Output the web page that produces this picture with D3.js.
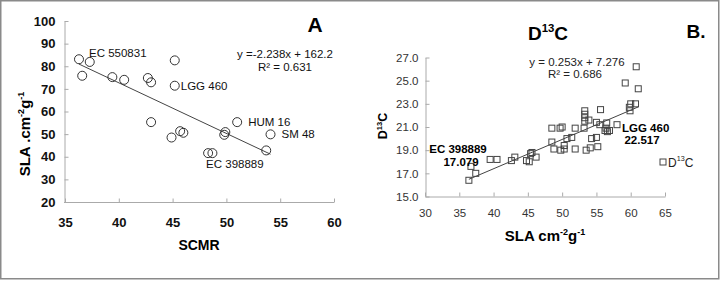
<!DOCTYPE html>
<html><head><meta charset="utf-8">
<script src="https://cdn.jsdelivr.net/npm/d3@7"></script>
<style>body{margin:0;background:#fff}svg{display:block;font-family:"Liberation Sans",Arial,sans-serif}</style>
</head><body><svg id="c" width="720" height="282"></svg>
<script>
// Panel A data
const scmr = [36.3, 37.3, 36.6, 39.4, 40.5, 42.7, 43.0, 45.2, 45.2, 43.0, 51.0, 45.7, 46.0, 44.9, 49.9, 49.8, 54.1, 53.7, 48.3, 48.7];
const slaA = [83.1, 81.9, 75.8, 75.2, 74.0, 74.8, 72.9, 82.6, 71.4, 55.3, 55.3, 51.3, 50.6, 48.5, 50.9, 49.7, 49.9, 42.8, 41.6, 41.6];
const labelsA = [
  {t:"EC 550831", x:36.3, y:83.1, dx:10, dy:-6},
  {t:"LGG 460", x:45.2, y:71.4, dx:6, dy:0},
  {t:"HUM 16", x:51.0, y:55.3, dx:11, dy:0},
  {t:"SM 48", x:54.1, y:49.9, dx:11, dy:0},
  {t:"EC 398889", x:48.3, y:41.6, dx:-2, dy:11}
];
const xTicksA = [35, 40, 45, 50, 55, 60];
const yTicksA = [20, 30, 40, 50, 60, 70, 80, 90, 100];
const fitA = {m:-2.238, b:162.2};

// Panel B data
const slaB = [36.4, 36.7, 37.4, 39.5, 40.5, 42.6, 43.1, 44.8, 45.2, 45.6, 46.2, 48.5, 48.8, 49.8, 50.3, 50.3, 51.9, 53.5, 54.1, 55.2,
  50.7, 51.4, 48.5, 49.7, 51.9, 53.2, 53.3, 53.3, 53.3, 53.3, 55.6, 53.9, 55.0, 55.5, 56.5, 56.25, 56.6, 56.9, 58.0, 54.3,
  55.0, 60.8, 59.2, 61.1, 60.0, 60.7, 59.8, 56.4, 45.4, 50.0, 59.9];
const d13c = [16.4, 17.6, 17.0, 18.2, 18.2, 18.1, 18.4, 18.1, 18.0, 18.8, 18.4, 19.7, 19.1, 19.0, 19.1, 19.4, 19.1, 19.0, 19.2, 19.3,
  20.0, 20.1, 20.9, 20.9, 20.9, 20.9, 22.4, 22.1, 21.8, 21.5, 22.5, 21.6, 21.4, 21.2, 21.35, 20.7, 20.6, 20.7, 21.2, 20.0,
  20.1, 26.2, 24.8, 24.3, 23.0, 23.0, 22.7, 20.9, 18.7, 21.0, 22.4];
const xTicksB = [30, 35, 40, 45, 50, 55, 60, 65];
const yTicksB = [15, 17, 19, 21, 23, 25, 27];
const fitB = {m:0.253, b:7.276};

const svg = d3.select("#c");
svg.append("rect").attr("x",0.75).attr("y",0.75).attr("width",718).attr("height",278)
  .attr("fill","#fff").attr("stroke","#8a8a8a").attr("stroke-width",1.5);

function rich(g, parts, size, attrs){
  const t = g.append("text").attr("font-size", size);
  for (const k in attrs) t.attr(k, attrs[k]);
  let raised = false;
  parts.forEach(p => {
    const ts = t.append("tspan").text(p.t);
    if (p.sup) {
      ts.attr("font-size", size*0.6).attr("dy", raised ? 0 : -size*0.42);
      raised = true;
    } else {
      if (raised) ts.attr("dy", size*0.42);
      raised = false;
    }
  });
  return t;
}

// ---------- Panel A ----------
const xA = d3.scaleLinear().domain([35,60]).range([65,334]);
const yA = d3.scaleLinear().domain([20,100]).range([202,21]);
const gA = svg.append("g");
const axA1 = gA.append("g").attr("transform","translate(64.5,0)")
  .call(d3.axisLeft(yA).tickValues(yTicksA).tickSizeInner(-4).tickSizeOuter(0).tickPadding(9));
const axA2 = gA.append("g").attr("transform","translate(0,202.5)")
  .call(d3.axisBottom(xA).tickValues(xTicksA).tickSizeInner(-4).tickSizeOuter(0).tickPadding(15));
[axA1, axA2].forEach(a => {
  a.selectAll("path,line").attr("stroke","#aaa");
  a.selectAll("text").attr("font-size",13).attr("font-weight","bold").attr("fill","#111")
   .attr("font-family","'Liberation Sans',Arial,sans-serif");
});
axA2.select(".domain").attr("d","M64,0H334");

const xsA = d3.extent(scmr);
gA.append("line").attr("x1",xA(xsA[0])).attr("y1",yA(fitA.m*xsA[0]+fitA.b))
  .attr("x2",xA(xsA[1])).attr("y2",yA(fitA.m*xsA[1]+fitA.b)).attr("stroke","#444").attr("stroke-width",1);
gA.selectAll("circle.p").data(scmr).join("circle").attr("class","p")
  .attr("cx",(d)=>xA(d)).attr("cy",(d,i)=>yA(slaA[i])).attr("r",4.5)
  .attr("fill","none").attr("stroke","#333").attr("stroke-width",1);
gA.selectAll("text.lab").data(labelsA).join("text").attr("class","lab")
  .attr("x",d=>xA(d.x)+d.dx).attr("y",d=>yA(d.y)+d.dy).attr("dominant-baseline","central")
  .attr("font-size",11.5).attr("fill","#111").text(d=>d.t);
gA.append("text").attr("x",285).attr("y",54).attr("text-anchor","middle").attr("dominant-baseline","central")
  .attr("font-size",11.5).attr("fill","#111").text("y =-2.238x + 162.2");
gA.append("text").attr("x",285).attr("y",67).attr("text-anchor","middle").attr("dominant-baseline","central")
  .attr("font-size",11.5).attr("fill","#111").text("R² = 0.631");
gA.append("text").attr("x",315).attr("y",32).attr("text-anchor","middle")
  .attr("font-size",21).attr("font-weight","bold").text("A");
gA.append("text").attr("x",199).attr("y",250).attr("text-anchor","middle")
  .attr("font-size",14).attr("font-weight","bold").text("SCMR");
rich(gA, [{t:"SLA .cm"},{t:"-2",sup:true},{t:"g"},{t:"-1",sup:true}], 15,
  {"font-weight":"bold","text-anchor":"middle","transform":"translate(30,134) rotate(-90)"});

// ---------- Panel B ----------
const xB = d3.scaleLinear().domain([30,65]).range([425,665]);
const yB = d3.scaleLinear().domain([15,27]).range([196.5,57.5]);
const gB = svg.append("g");
const axB1 = gB.append("g").attr("transform","translate(425.5,0)")
  .call(d3.axisLeft(yB).tickValues(yTicksB).tickFormat(d3.format(".1f")).tickSizeInner(-4).tickSizeOuter(0).tickPadding(7));
const axB2 = gB.append("g").attr("transform","translate(0,196.5)")
  .call(d3.axisBottom(xB).tickValues(xTicksB).tickSizeInner(-4).tickSizeOuter(0).tickPadding(12));
[axB1, axB2].forEach(a => {
  a.selectAll("path,line").attr("stroke","#aaa");
  a.selectAll("text").attr("font-size",11.5).attr("fill","#333")
   .attr("font-family","'Liberation Sans',Arial,sans-serif");
});

const xsB = d3.extent(slaB);
gB.append("line").attr("x1",xB(xsB[0])).attr("y1",yB(fitB.m*xsB[0]+fitB.b))
  .attr("x2",xB(xsB[1])).attr("y2",yB(fitB.m*xsB[1]+fitB.b)).attr("stroke","#444").attr("stroke-width",1);
const s = 6;
gB.selectAll("rect.p").data(slaB).join("rect").attr("class","p")
  .attr("x",d=>xB(d)-s/2).attr("y",(d,i)=>yB(d13c[i])-s/2).attr("width",s).attr("height",s)
  .attr("fill","#fff").attr("fill-opacity",0).attr("stroke","#444").attr("stroke-width",1);

gB.append("text").attr("x",458).attr("y",149).attr("text-anchor","middle").attr("dominant-baseline","central")
  .attr("font-size",11.5).attr("font-weight","bold").text("EC 398889");
gB.append("text").attr("x",461).attr("y",162).attr("text-anchor","middle").attr("dominant-baseline","central")
  .attr("font-size",11.5).attr("font-weight","bold").text("17.079");
gB.append("text").attr("x",622).attr("y",128).attr("dominant-baseline","central")
  .attr("font-size",11.5).attr("font-weight","bold").text("LGG 460");
gB.append("text").attr("x",642).attr("y",140).attr("text-anchor","middle").attr("dominant-baseline","central")
  .attr("font-size",11.5).attr("font-weight","bold").text("22.517");
gB.append("text").attr("x",577).attr("y",62).attr("text-anchor","middle").attr("dominant-baseline","central")
  .attr("font-size",11.5).attr("fill","#222").text("y = 0.253x + 7.276");
gB.append("text").attr("x",575).attr("y",74).attr("text-anchor","middle").attr("dominant-baseline","central")
  .attr("font-size",11.5).attr("fill","#222").text("R² = 0.686");
rich(gB, [{t:"D"},{t:"13",sup:true},{t:"C"}], 19, {"font-weight":"bold","text-anchor":"middle","x":548,"y":40});
gB.append("text").attr("x",696).attr("y",38).attr("text-anchor","middle")
  .attr("font-size",19).attr("font-weight","bold").text("B.");
rich(gB, [{t:"SLA cm"},{t:"-2",sup:true},{t:"g"},{t:"-1",sup:true}], 15,
  {"font-weight":"bold","text-anchor":"middle","x":545,"y":241});
rich(gB, [{t:"D"},{t:"13",sup:true},{t:"C"}], 12.5,
  {"font-weight":"bold","text-anchor":"middle","transform":"translate(387,126) rotate(-90)"});
// legend
gB.append("rect").attr("x",660).attr("y",159).attr("width",s).attr("height",s)
  .attr("fill","#fff").attr("stroke","#444");
rich(gB, [{t:"D"},{t:"13",sup:true},{t:"C"}], 12, {"x":668,"y":166.5,"fill":"#222"});
</script></body></html>
